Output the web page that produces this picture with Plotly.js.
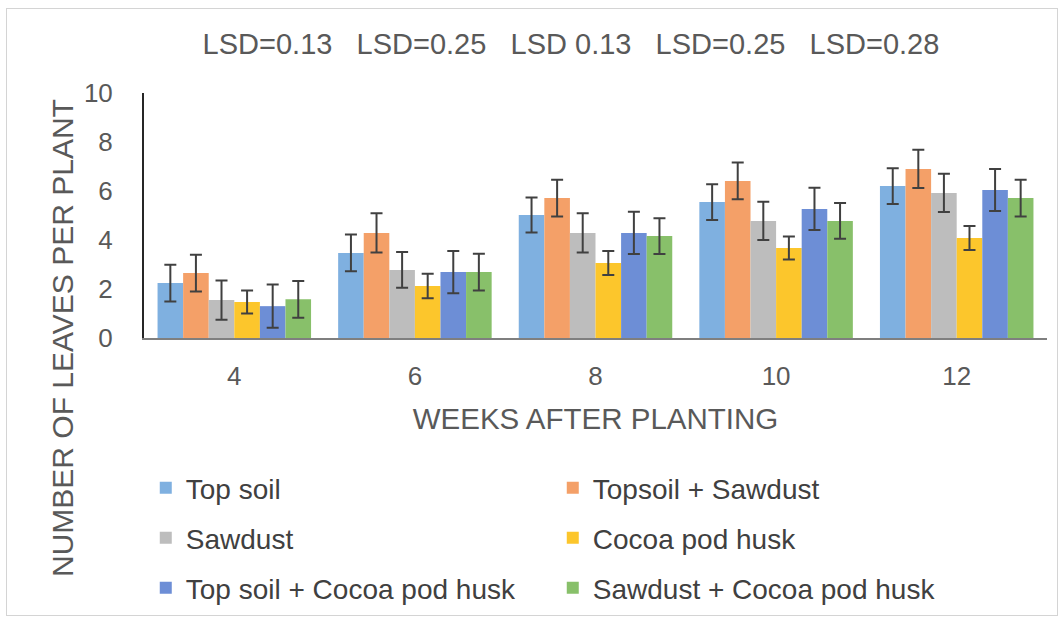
<!DOCTYPE html>
<html>
<head>
<meta charset="utf-8">
<script src="https://cdn.plot.ly/plotly-3.0.1.min.js"></script>
<style>
  html, body { margin: 0; padding: 0; background: #ffffff; }
  #wrap { position: relative; width: 1064px; height: 622px; }
  #frame { position: absolute; left: 6px; top: 8px; width: 1050px; height: 606px; border: 1px solid #d4d4d4; pointer-events: none; }
  #chart { position: absolute; left: 0; top: 0; width: 1064px; height: 622px; }
</style>
</head>
<body>
<div id="wrap">
  <div id="chart"></div>
  <div id="frame"></div>
</div>
<script>
// ---- data ----
const weeks = ["4", "6", "8", "10", "12"];
const seriesNames = ["Top soil", "Topsoil + Sawdust", "Sawdust", "Cocoa pod husk", "Top soil + Cocoa pod husk", "Sawdust + Cocoa pod husk"];
const topSoil          = [2.24, 3.47, 5.02, 5.55, 6.20];
const topsoilSawdust   = [2.65, 4.29, 5.71, 6.41, 6.90];
const sawdust          = [1.55, 2.78, 4.29, 4.78, 5.92];
const cocoaPodHusk     = [1.47, 2.12, 3.06, 3.67, 4.08];
const topSoilCocoa     = [1.30, 2.69, 4.29, 5.27, 6.04];
const sawdustCocoa     = [1.58, 2.69, 4.16, 4.78, 5.71];
const errTopSoil        = [0.75, 0.75, 0.71, 0.73, 0.73];
const errTopsoilSawdust = [0.75, 0.80, 0.75, 0.75, 0.78];
const errSawdust        = [0.80, 0.73, 0.80, 0.78, 0.78];
const errCocoa          = [0.47, 0.50, 0.49, 0.47, 0.49];
const errTopSoilCocoa   = [0.88, 0.86, 0.86, 0.86, 0.86];
const errSawdustCocoa   = [0.75, 0.75, 0.73, 0.73, 0.75];
const lsdLabels = ["LSD=0.13", "LSD=0.25", "LSD 0.13", "LSD=0.25", "LSD=0.28"];

const values = [topSoil, topsoilSawdust, sawdust, cocoaPodHusk, topSoilCocoa, sawdustCocoa];
const errors = [errTopSoil, errTopsoilSawdust, errSawdust, errCocoa, errTopSoilCocoa, errSawdustCocoa];
const colors = ["#7fb0e0", "#f4a068", "#bdbdbd", "#fcc62c", "#6d8ed6", "#88c06a"];
const legendIds = ["legend", "legend", "legend2", "legend2", "legend3", "legend3"];

const FONT = "Liberation Sans, Arial, sans-serif";
const TXT = "#595959";

const traces = seriesNames.map((name, i) => ({
  type: "bar",
  name: name,
  x: weeks,
  y: values[i],
  legend: legendIds[i],
  marker: { color: colors[i], line: { width: 0 } },
  error_y: { type: "data", array: errors[i], visible: true, color: "#404040", thickness: 2, width: 6 }
}));

const legendBase = (yc) => ({
  orientation: "h",
  xref: "container", yref: "container",
  x: 0.137, xanchor: "left",
  y: yc, yanchor: "middle",
  entrywidth: 362, entrywidthmode: "pixels",
  font: { family: FONT, size: 28, color: "#404040" },
  bgcolor: "rgba(0,0,0,0)",
  traceorder: "normal",
  itemclick: false
});

const nb = "\u00A0\u00A0\u00A0";
const layout = {
  width: 1064, height: 622,
  paper_bgcolor: "rgba(0,0,0,0)",
  plot_bgcolor: "#ffffff",
  margin: { l: 144, r: 17, t: 93, b: 284 },
  barmode: "group",
  bargap: 0.15,
  bargroupgap: 0,
  font: { family: FONT, color: TXT },
  title: {
    text: lsdLabels.join(nb),
    font: { family: FONT, size: 29, color: TXT },
    x: 571 / 1064, xanchor: "center", xref: "container",
    y: 1 - 44 / 622, yanchor: "middle", yref: "container"
  },
  xaxis: {
    type: "category",
    showline: true, linecolor: "#7f7f7f", linewidth: 2,
    ticks: "", showgrid: false, zeroline: false,
    tickfont: { family: FONT, size: 26, color: TXT },
    ticklabelstandoff: 14,
    title: { text: "WEEKS AFTER PLANTING", font: { family: FONT, size: 29.5, color: TXT }, standoff: 18 }
  },
  yaxis: {
    range: [0, 10],
    dtick: 2, tick0: 0,
    showline: true, linecolor: "#262626", linewidth: 2,
    ticks: "", showgrid: false, zeroline: false,
    tickfont: { family: FONT, size: 26, color: TXT },
    ticklabelstandoff: 24
  },
  annotations: [{
    text: "NUMBER OF LEAVES PER PLANT",
    textangle: -90,
    xref: "paper", yref: "paper",
    x: (62 - 144) / (1064 - 144 - 17), xanchor: "center",
    y: (622 - 284 - 338) / (622 - 93 - 284), yanchor: "middle",
    showarrow: false,
    font: { family: FONT, size: 30, color: TXT }
  }],
  legend: legendBase(1 - 488 / 622),
  legend2: legendBase(1 - 538 / 622),
  legend3: legendBase(1 - 588 / 622),
  showlegend: true
};

Plotly.newPlot("chart", traces, layout, { displayModeBar: false, staticPlot: true });
</script>
</body>
</html>
